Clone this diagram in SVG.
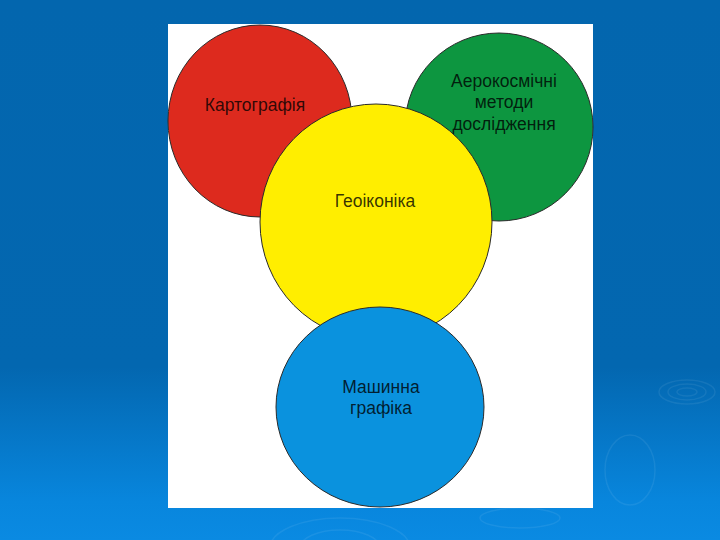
<svg xmlns="http://www.w3.org/2000/svg" width="720" height="540" viewBox="0 0 720 540">
  <defs>
    <linearGradient id="bg" x1="0" y1="0" x2="0" y2="1">
      <stop offset="0" stop-color="#0366ae"/>
      <stop offset="0.68" stop-color="#0367b0"/>
      <stop offset="0.93" stop-color="#0886dd"/>
      <stop offset="1" stop-color="#0a8ae2"/>
    </linearGradient>
  </defs>
  <style>
    .node { stroke: #2a2a2a; stroke-width: 1; }
    .lbl { font-family: "Liberation Sans", Arial, sans-serif; font-size: 17.5px; fill: #000; fill-opacity: 0.8; text-anchor: middle; }
    .ripple { fill: none; stroke: #ffffff; stroke-opacity: 0.07; stroke-width: 1.5; }
  </style>
  <rect x="0" y="0" width="720" height="540" fill="url(#bg)"/>
  <g id="ripples">
    <ellipse class="ripple" cx="687" cy="392" rx="10" ry="4"/>
    <ellipse class="ripple" cx="687" cy="392" rx="19" ry="8"/>
    <ellipse class="ripple" cx="687" cy="392" rx="28" ry="12"/>
    <ellipse class="ripple" cx="630" cy="470" rx="25" ry="35"/>
    <ellipse class="ripple" cx="340" cy="548" rx="40" ry="18"/>
    <ellipse class="ripple" cx="340" cy="548" rx="70" ry="30"/>
    <ellipse class="ripple" cx="520" cy="518" rx="40" ry="10"/>
  </g>
  <rect id="panel" x="168" y="24" width="425" height="484" fill="#ffffff"/>
  <g id="kartografiya">
    <ellipse class="node" cx="260" cy="121" rx="92" ry="96" fill="#dd2a1e"/>
    <text class="lbl" x="255" y="111">Картографія</text>
  </g>
  <g id="aerokosmichni">
    <circle class="node" cx="499" cy="127" r="94" fill="#0d9640"/>
    <text class="lbl" x="504" y="87">Аерокосмічні</text>
    <text class="lbl" x="504" y="108">методи</text>
    <text class="lbl" x="504" y="130">дослідження</text>
  </g>
  <g id="geoikonika">
    <ellipse class="node" cx="376" cy="222" rx="116" ry="118" fill="#ffee00"/>
    <text class="lbl" x="375" y="207">Геоіконіка</text>
  </g>
  <g id="mashynna">
    <ellipse class="node" cx="380" cy="407" rx="104" ry="100" fill="#0a92de"/>
    <text class="lbl" x="381" y="393">Машинна</text>
    <text class="lbl" x="381" y="414">графіка</text>
  </g>
  <g id="connectors"></g>
</svg>
